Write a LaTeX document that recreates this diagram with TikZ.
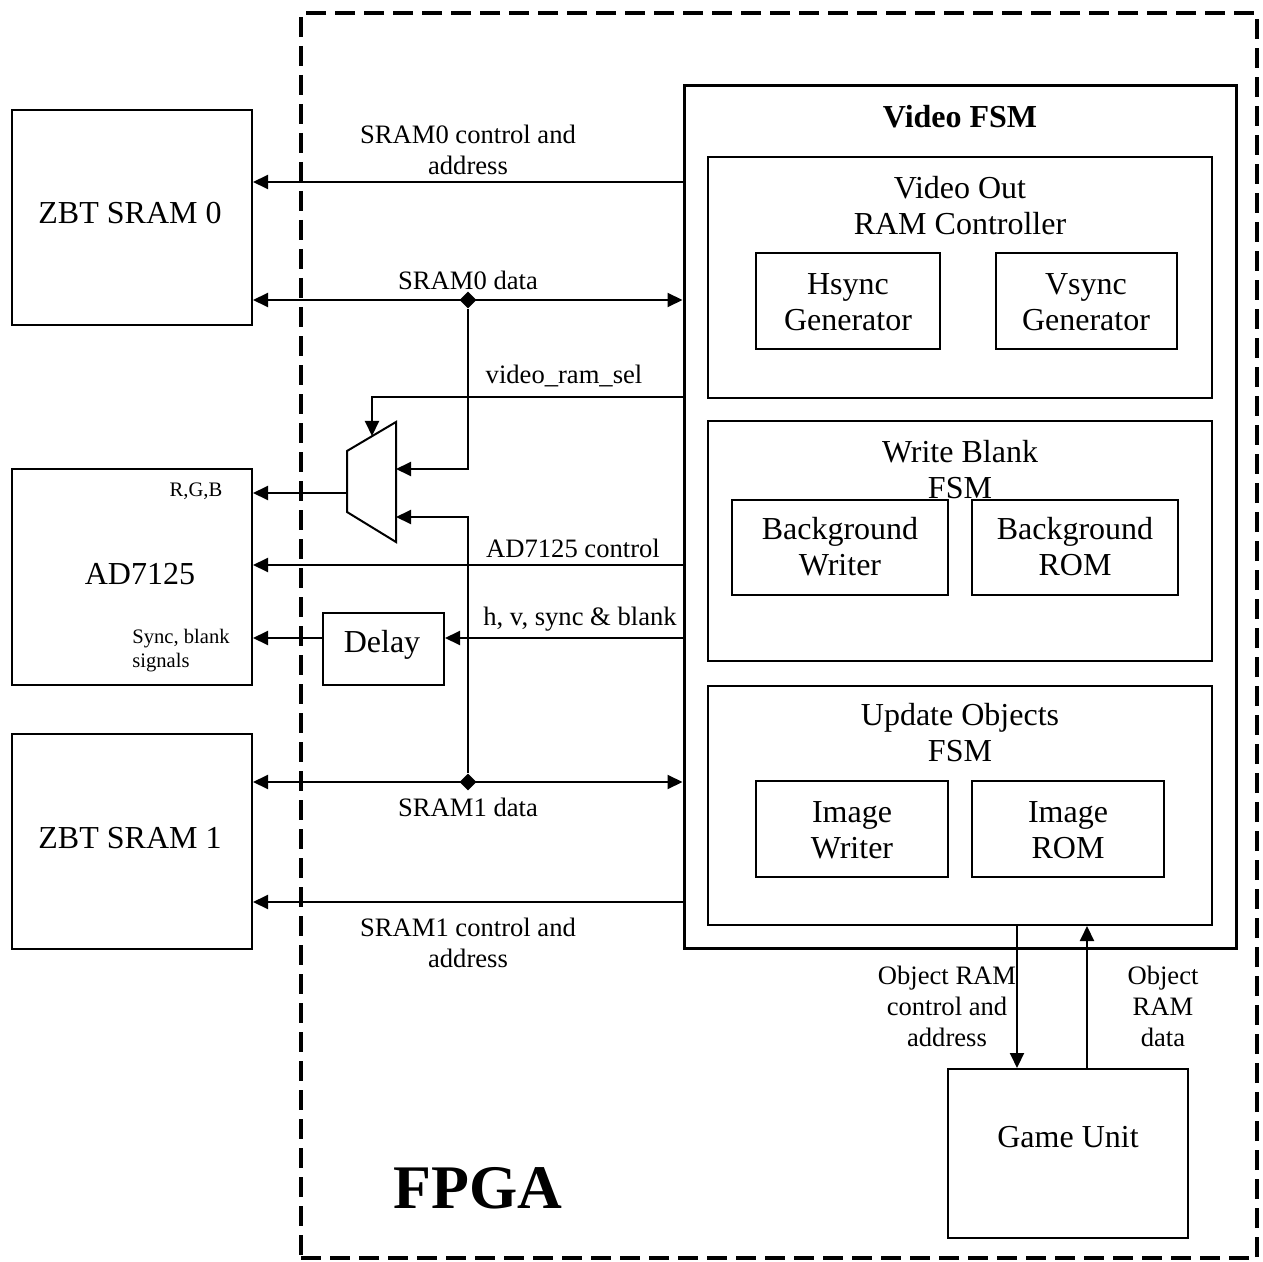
\documentclass[tikz,border=0pt]{standalone}
\usepackage{fontspec}
\setmainfont{Liberation Serif}
\usetikzlibrary{arrows.meta,fit,shapes.geometric}
\begin{document}
\begin{tikzpicture}[x=0.5pt,y=-0.5pt,
  box/.style={draw, line width=1pt, inner sep=0pt},
  txt/.style={font=\fontsize{16}{18}\selectfont, align=center, inner sep=0pt},
  lbl/.style={font=\fontsize{13.3}{15.5}\selectfont, align=center, inner sep=0pt},
  sml/.style={font=\fontsize{10.3}{12}\selectfont, align=left, inner sep=0pt},
  conn/.style={line width=1pt, -{Triangle[length=7.5pt,width=7pt]}},
  bconn/.style={line width=1pt, {Triangle[length=7.5pt,width=7pt]}-{Triangle[length=7.5pt,width=7pt]}},
  junc/.style={diamond, fill=black, inner sep=0pt, minimum size=8.5pt}]
\useasboundingbox (0,0) rectangle (1263,1262);

% FPGA frame
\node[draw, line width=2pt, dash pattern=on 10pt off 4.5pt, inner sep=0pt, fit={(301,13)(1257,1258)}] (fpga) {};

% boxes
\node[box, fit={(12,110)(252,325)}] (s0) {};
\node[box, fit={(12,469)(252,685)}] (ad) {};
\node[box, fit={(12,734)(252,949)}] (s1) {};
\node[box, line width=1.5pt, fit={(684,86)(1236,948)}] (vfsm) {};
\node[box, fit={(708,157)(1212,398)}] (vout) {};
\node[box, fit={(756,253)(940,349)}] (hs) {};
\node[box, fit={(996,253)(1177,349)}] (vs) {};
\node[box, fit={(708,421)(1212,661)}] (wb) {};
\node[box, fit={(732,500)(948,595)}] (bw) {};
\node[box, fit={(972,500)(1178,595)}] (br) {};
\node[box, fit={(708,686)(1212,925)}] (uo) {};
\node[box, fit={(756,781)(948,877)}] (iw) {};
\node[box, fit={(972,781)(1164,877)}] (ir) {};
\node[box, fit={(948,1069)(1188,1238)}] (gu) {};
\node[box, fit={(323,613)(444,685)}] (dl) {};

% mux
\draw[line width=1pt] (347,451) -- (396,422) -- (396,542) -- (347,512) -- cycle;
\coordinate (muxA) at (396,469);
\coordinate (muxB) at (396,517);
\coordinate (muxO) at (347,493);
\coordinate (muxS) at (372,436);

% texts in boxes
\node[txt] (ts0) at (130,213) {ZBT SRAM 0};
\node[txt] (tad) at (140,574) {AD7125};
\node[txt] (ts1) at (130,838) {ZBT SRAM 1};
\node[sml] (trgb) at (196,491) {R,G,B};
\node[sml, anchor=west] (tsb) at (132,651) {Sync, blank\\signals};
\node[txt] (tdl) at (382,645) {Delay};
\node[txt] (tgu) at (1068,1137) {Game Unit};
\node[txt, font=\fontsize{16}{18}\selectfont\bfseries] (tvf) at (960,117) {Video FSM};
\node[txt] (tvo) at (960,206) {Video Out\\RAM Controller};
\node[txt] (ths) at (848,302) {Hsync\\Generator};
\node[txt] (tvs) at (1086,302) {Vsync\\Generator};
\node[txt] (twb) at (960,470) {Write Blank\\FSM};
\node[txt] (tbw) at (840,547) {Background\\Writer};
\node[txt] (tbr) at (1075,547) {Background\\ROM};
\node[txt] (tuo) at (960,733) {Update Objects\\FSM};
\node[txt] (tiw) at (852,830) {Image\\Writer};
\node[txt] (tir) at (1068,830) {Image\\ROM};
\node[font=\fontsize{31}{36}\selectfont\bfseries, inner sep=0pt] (tfpga) at (478,1188) {FPGA};

% connectors
\node[junc] (j0) at (468,300) {};
\node[junc] (j1) at (468,782) {};
\draw[conn] (vfsm.west |- 0,182) -- (s0.east |- 0,182);
\draw[bconn] (s0.east |- j0) -- (vfsm.west |- j0);
\draw[bconn] (s1.east |- j1) -- (vfsm.west |- j1);
\draw[conn] (j0.south) |- (muxA);
\draw[conn] (j1.north) |- (muxB);
\draw[conn] (vfsm.west |- 0,397) -| (muxS);
\draw[conn] (muxO) -- (ad.east |- muxO);
\draw[conn] (vfsm.west |- 0,565) -- (ad.east |- 0,565);
\draw[conn] (vfsm.west |- 0,638) -- (dl.east |- 0,638);
\draw[conn] (dl.west |- 0,638) -- (ad.east |- 0,638);
\draw[conn] (vfsm.west |- 0,902) -- (s1.east |- 0,902);
\draw[conn] (uo.south -| 1017,0) -- (gu.north -| 1017,0);
\draw[conn] (gu.north -| 1087,0) -- (uo.south -| 1087,0);

% connector labels
\node[lbl] (l1) at (468,150) {SRAM0 control and\\address};
\node[lbl] (l2) at (468,280) {SRAM0 data};
\node[lbl] (l3) at (564,376) {video\_ram\_sel};
\node[lbl] (l4) at (573,548) {AD7125 control};
\node[lbl] (l5) at (580,619) {h, v, sync \& blank};
\node[lbl] (l6) at (468,807) {SRAM1 data};
\node[lbl] (l7) at (468,943) {SRAM1 control and\\address};
\node[lbl] (l8) at (947,1006) {Object RAM\\control and\\address};
\node[lbl] (l9) at (1163,1006) {Object\\RAM\\data};
\end{tikzpicture}
\end{document}
